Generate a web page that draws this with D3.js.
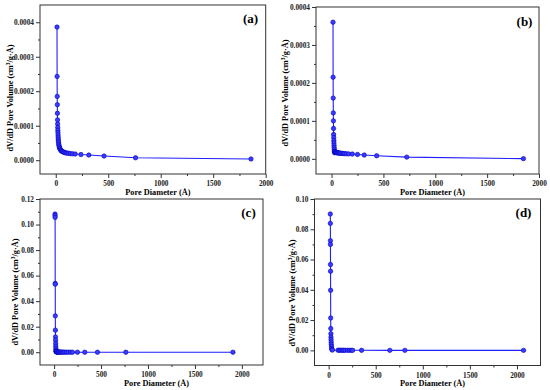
<!DOCTYPE html>
<html>
<head>
<meta charset="utf-8">
<script src="https://cdn.jsdelivr.net/npm/d3@7"></script>
<style>
  body { margin: 0; background: #fff; }
  svg { display: block; }
  .tick text { font-family: 'Liberation Serif', 'Times New Roman', serif; font-weight: bold; }
</style>
</head>
<body>
<div id="graf"></div>
<script>
// -- Datos (diámetro en Å, dV/dD en cm3/g·Å)
const diamA = [12, 13, 14, 15, 16, 17, 18, 19, 20, 21, 22, 23, 24, 25, 27, 29, 31, 34, 37, 40, 44, 48, 53, 58, 64, 71, 79, 88, 98, 110, 124, 140, 160, 185, 240, 315, 460, 760, 1860]
const volA = [3.86e-4, 2.43e-4, 1.85e-4, 1.61e-4, 1.36e-4, 1.17e-4, 1.05e-4, 0.95e-4, 0.87e-4, 0.80e-4, 0.73e-4, 0.67e-4, 0.61e-4, 0.56e-4, 0.51e-4, 0.46e-4, 0.42e-4, 0.385e-4, 0.355e-4, 0.33e-4, 0.31e-4, 0.29e-4, 0.275e-4, 0.26e-4, 0.25e-4, 0.24e-4, 0.23e-4, 0.22e-4, 0.21e-4, 0.205e-4, 0.20e-4, 0.19e-4, 0.185e-4, 0.18e-4, 0.165e-4, 0.15e-4, 0.12e-4, 0.07e-4, 0.035e-4]

const diamB = [14, 15, 16, 17, 18, 19, 20, 21, 22, 23, 24, 25, 26, 27, 29, 31, 33, 36, 39, 42, 46, 50, 55, 60, 66, 73, 81, 90, 100, 112, 126, 143, 165, 200, 250, 315, 435, 725, 1850]
const volB = [3.60e-4, 2.15e-4, 1.60e-4, 1.21e-4, 1.00e-4, 0.80e-4, 0.64e-4, 0.56e-4, 0.48e-4, 0.42e-4, 0.36e-4, 0.30e-4, 0.25e-4, 0.20e-4, 0.16e-4, 0.19e-4, 0.185e-4, 0.18e-4, 0.175e-4, 0.17e-4, 0.168e-4, 0.165e-4, 0.16e-4, 0.158e-4, 0.155e-4, 0.152e-4, 0.15e-4, 0.147e-4, 0.144e-4, 0.14e-4, 0.137e-4, 0.133e-4, 0.13e-4, 0.125e-4, 0.115e-4, 0.10e-4, 0.08e-4, 0.045e-4, 0.005e-4]

const diamC = [10, 10.5, 11, 12, 12.5, 13, 14, 15, 16, 17, 18, 19, 20, 21, 22, 24, 26, 28, 31, 34, 38, 42, 47, 53, 60, 68, 77, 88, 100, 115, 132, 152, 175, 196, 249, 327, 462, 764, 1905]
const volC = [0.1082, 0.1069, 0.1056, 0.0539, 0.0533, 0.0285, 0.0173, 0.0120, 0.0094, 0.0068, 0.0047, 0.0029, 0.0016, 0.0008, 0.0005, 0.0004, 0.0003, 0.00025, 0.0002, 0.00018, 0.00016, 0.00014, 0.00012, 0.0001, 0.00009, 0.00008, 0.00007, 0.00006, 0.00005, 0.00004, 0.00004, 0.00003, 0.00003, 0.00003, 0.00002, 0.00002, 0.00001, 0.00001, 0.000005]

const diamD = [18, 18.5, 19, 19.5, 20, 20.5, 21, 22, 23, 24, 25, 26, 27, 28, 30, 32, 35, 40, 100, 115, 130, 145, 160, 175, 200, 220, 240, 255, 350, 650, 810, 2070]
const volD = [0.0901, 0.0839, 0.0724, 0.0700, 0.0567, 0.0523, 0.0397, 0.0214, 0.0144, 0.0110, 0.0088, 0.0071, 0.0055, 0.0040, 0.0026, 0.0013, 0.0005, 0.0002, 0.0001, 0.0001, 0.00008, 0.00007, 0.00006, 0.00005, 0.00005, 0.00004, 0.00004, 0.00003, 0.00003, 0.00002, 0.00002, 0.00001]

const xTicks = [0, 500, 1000, 1500, 2000]
const yTicksAB = [0, 0.0001, 0.0002, 0.0003, 0.0004]
const yTicksC = [0, 0.02, 0.04, 0.06, 0.08, 0.10, 0.12]
const yTicksD = [0, 0.02, 0.04, 0.06, 0.08, 0.10]
const etiquetas = ['(a)', '(b)', '(c)', '(d)']

// -- Configuración del canvas
const ancho_total = 550, alto_total = 390
const svg = d3.select('#graf').append('svg')
    .attr('width', ancho_total)
    .attr('height', alto_total)

const fuente = "'Liberation Serif', 'Times New Roman', serif"

// -- Paneles: caja del marco, dominios y formato
const paneles = [
  { d: diamA, v: volA, box: [40, 5, 265.7, 174], xd: [-150, 2000], yd: [-0.00004, 0.00045], yt: yTicksAB, step: 0.0001, fmt: '.4f', lbl: etiquetas[0], lx: 250.5, ly: 23, ylx: 10, yly: 98, xly: 195 },
  { d: diamB, v: volB, box: [316, 7, 539, 174], xd: [-150, 2000], yd: [-0.00004, 0.0004], yt: yTicksAB, step: 0.0001, fmt: '.4f', lbl: etiquetas[1], lx: 524.5, ly: 25.5, ylx: 285, yly: 93, xly: 195 },
  { d: diamC, v: volC, box: [40, 199, 263, 365], xd: [-150, 2225], yd: [-0.01, 0.12], yt: yTicksC, step: 0.02, fmt: '.2f', lbl: etiquetas[2], lx: 248.5, ly: 216.5, ylx: 15, yly: 292, xly: 386 },
  { d: diamD, v: volD, box: [314.5, 199, 540.5, 365.5], xd: [-150, 2250], yd: [-0.01, 0.10], yt: yTicksD, step: 0.02, fmt: '.2f', lbl: etiquetas[3], lx: 523.5, ly: 216.5, ylx: 292, yly: 293, xly: 386 }
]

paneles.forEach(p => dibujar(p))

function dibujar (p) {
  const [x0, y0, x1, y1] = p.box
  const x = d3.scaleLinear().domain(p.xd).range([x0, x1])
  const y = d3.scaleLinear().domain(p.yd).range([y1, y0])
  const g = svg.append('g')

  // -- Marco
  g.append('rect')
      .attr('x', x0).attr('y', y0)
      .attr('width', x1 - x0).attr('height', y1 - y0)
      .attr('fill', 'none')
      .attr('stroke', '#333')
      .attr('stroke-width', 1)

  // -- Ticks menores
  const xMin = d3.range(250, 2001, 500).filter(t => t < p.xd[1])
  const yMin = p.yt.map(t => t + p.step / 2).filter(t => t < p.yd[1])
  g.append('g')
      .attr('transform', `translate(0,${y1})`)
      .call(d3.axisBottom(x).tickValues(xMin).tickSize(2).tickFormat(''))
      .call(a => a.select('.domain').remove())
  g.append('g')
      .attr('transform', `translate(${x0},0)`)
      .call(d3.axisLeft(y).tickValues(yMin).tickSize(2).tickFormat(''))
      .call(a => a.select('.domain').remove())

  // -- Ejes principales
  const xAxis = g.append('g')
      .attr('transform', `translate(0,${y1})`)
      .call(d3.axisBottom(x).tickValues(xTicks).tickSize(4).tickPadding(3).tickFormat(d3.format('d')))
  const yAxis = g.append('g')
      .attr('transform', `translate(${x0},0)`)
      .call(d3.axisLeft(y).tickValues(p.yt).tickSize(4).tickPadding(2).tickFormat(d3.format(p.fmt)))
  ;[xAxis, yAxis].forEach(a => {
    a.select('.domain').remove()
    a.selectAll('.tick text').attr('font-size', '7.3px').attr('fill', '#222')
  })
  g.selectAll('.tick line').attr('stroke', '#333')

  // -- Curva y marcadores
  const datos = p.d.map((d, i) => ({ d: d, v: p.v[i] }))
  g.append('path')
      .datum(datos)
      .attr('fill', 'none')
      .attr('stroke', '#1f1fff')
      .attr('stroke-width', 1.1)
      .attr('d', d3.line().x(d => x(d.d)).y(d => y(d.v)))
  g.selectAll('circle')
      .data(datos)
      .enter()
      .append('circle')
      .attr('cx', d => x(d.d))
      .attr('cy', d => y(d.v))
      .attr('r', 2.2)
      .attr('fill', '#3b3bff')
      .attr('stroke', '#0000c0')
      .attr('stroke-width', 0.6)

  // -- Textos
  g.append('text')
      .attr('x', p.lx).attr('y', p.ly)
      .attr('text-anchor', 'middle')
      .attr('font-family', fuente)
      .attr('font-weight', 'bold')
      .attr('font-size', '13px')
      .text(p.lbl)
  g.append('text')
      .attr('x', (x0 + x1) / 2 + 5).attr('y', p.xly)
      .attr('text-anchor', 'middle')
      .attr('font-family', fuente)
      .attr('font-weight', 'bold')
      .attr('font-size', '8.3px')
      .text('Pore Diameter (Å)')
  const yl = g.append('text')
      .attr('transform', `translate(${p.ylx},${p.yly}) rotate(-90)`)
      .attr('text-anchor', 'middle')
      .attr('dy', '0.35em')
      .attr('font-family', fuente)
      .attr('font-weight', 'bold')
      .attr('font-size', '8.3px')
  yl.append('tspan').text('dV/dD Pore Volume (cm')
  yl.append('tspan').attr('baseline-shift', 'super').attr('font-size', '5.5px').text('3')
  yl.append('tspan').text('/g·Å)')
}
</script>
</body>
</html>
